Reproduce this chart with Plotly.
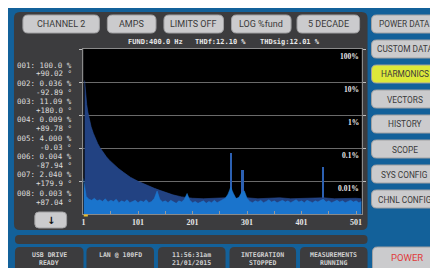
import math
import plotly.graph_objects as go

W, H = 438, 268
OFF = 8  # page body margin: the figure starts 8px in from the window's top-left

# ---------------- data ----------------
harmonic_ticks = [1, 101, 201, 301, 401, 501]
harmonic_tick_labels = ["1", "101", "201", "301", "401", "501"]
harmonic_minor_ticks = [51, 151, 251, 351, 451]
decade_vals = [100, 10, 1, 0.1, 0.01]
decade_labels = ["100%", "10%", "1%", "0.1%", "0.01%"]
cursor_harmonic = 1

# odd-harmonic envelope (% of fundamental)
env_h = [3, 5, 7, 9, 11, 13, 15, 19, 23, 27, 31, 37, 43, 49, 57, 65, 75, 87, 101, 115,
         131, 141, 151, 165, 181, 201, 221, 241, 261, 281, 301, 321, 341, 361, 381, 401,
         421, 441, 461, 481, 501, 511]
env_pct = [11.09, 4.00, 2.04, 1.23, 0.83, 0.59, 0.44, 0.28, 0.19, 0.137, 0.104, 0.073,
           0.054, 0.042, 0.031, 0.024, 0.018, 0.013, 0.0098, 0.0076, 0.0060, 0.0052,
           0.0045, 0.0038, 0.0033, 0.0030, 0.0029, 0.0030, 0.0031, 0.0030, 0.0031,
           0.0029, 0.0030, 0.0031, 0.0029, 0.0030, 0.0030, 0.0031, 0.0029, 0.0030,
           0.0030, 0.0029]

# noise floor (% of fundamental)
floor_h = [1, 6, 11, 16, 21, 26, 31, 36, 41, 46, 51, 56, 61, 66, 71, 76, 81, 86, 91, 96,
           101, 106, 111, 116, 121, 126, 131, 136, 141, 146, 151, 156, 161, 166, 171, 176,
           181, 186, 191, 196, 201, 206, 211, 216, 221, 226, 231, 236, 241, 246, 251, 256,
           261, 266, 271, 276, 281, 286, 291, 296, 301, 306, 311, 316, 321, 326, 331, 336,
           341, 346, 351, 356, 361, 366, 371, 376, 381, 386, 391, 396, 401, 406, 411, 416,
           421, 426, 431, 436, 441, 446, 451, 456, 461, 466, 471, 476, 481, 486, 491, 496,
           501, 506, 511]
floor_pct = [0.0120, 0.0034, 0.0028, 0.0026, 0.0030, 0.0025, 0.0027, 0.0024, 0.0029, 0.0023,
             0.0026, 0.0024, 0.0028, 0.0022, 0.0025, 0.0023, 0.0027, 0.0022, 0.0024, 0.0026,
             0.0022, 0.0025, 0.0023, 0.0027, 0.0022, 0.0024, 0.0030, 0.0050, 0.0028, 0.0023,
             0.0025, 0.0022, 0.0026, 0.0023, 0.0021, 0.0025, 0.0023, 0.0028, 0.0042, 0.0026,
             0.0022, 0.0024, 0.0021, 0.0023, 0.0025, 0.0021, 0.0024, 0.0022, 0.0026, 0.0022,
             0.0024, 0.0026, 0.0030, 0.0040, 0.0065, 0.0042, 0.0029, 0.0032, 0.0045, 0.0050,
             0.0030, 0.0024, 0.0022, 0.0025, 0.0023, 0.0026, 0.0022, 0.0024, 0.0027, 0.0023,
             0.0025, 0.0022, 0.0024, 0.0026, 0.0023, 0.0025, 0.0022, 0.0024, 0.0027, 0.0023,
             0.0025, 0.0022, 0.0026, 0.0024, 0.0022, 0.0025, 0.0023, 0.0026, 0.0028, 0.0023,
             0.0025, 0.0022, 0.0024, 0.0026, 0.0023, 0.0025, 0.0022, 0.0024, 0.0026, 0.0023,
             0.0025, 0.0022, 0.0024]

# isolated spectral lines
spike_h = [272, 294, 442]
spike_pct = [0.072, 0.021, 0.026]

# readout list
list_harm = ["001", "002", "003", "004", "005", "006", "007", "008"]
list_mag = ["100.0", "0.036", "11.09", "0.009", "4.000", "0.004", "2.040", "0.003"]
list_phase = ["+90.02", "-92.89", "+180.0", "+89.78", "-0.03", "-87.94", "+179.9", "+87.04"]

fund_text = "FUND:400.0 Hz"
thdf_text = "THDf:12.10 %"
thdsig_text = "THDsig:12.01 %"

top_buttons = ["CHANNEL 2", "AMPS", "LIMITS OFF", "LOG %fund", "5 DECADE"]
menu_buttons = ["POWER DATA", "CUSTOM DATA", "HARMONICS", "VECTORS", "HISTORY",
                "SCOPE", "SYS CONFIG", "CHNL CONFIG"]
active_menu = "HARMONICS"
status_boxes = [["USB DRIVE", "READY"], ["LAN @ 100FD"], ["11:56:31am", "21/01/2015"],
                ["INTEGRATION", "STOPPED"], ["MEASUREMENTS", "RUNNING"]]
power_label = "POWER"


# ---------------- helpers (window pixel -> paper) ----------------
def px(x):
    return (x - OFF) / W


def py(y):
    return 1 - (y - OFF) / H


def rrect(x0, y0, x1, y1, r, fill, line=None, lw=0):
    p = (f"M {px(x0 + r)},{py(y0)} L {px(x1 - r)},{py(y0)} "
         f"Q {px(x1)},{py(y0)} {px(x1)},{py(y0 + r)} L {px(x1)},{py(y1 - r)} "
         f"Q {px(x1)},{py(y1)} {px(x1 - r)},{py(y1)} L {px(x0 + r)},{py(y1)} "
         f"Q {px(x0)},{py(y1)} {px(x0)},{py(y1 - r)} L {px(x0)},{py(y0 + r)} "
         f"Q {px(x0)},{py(y0)} {px(x0 + r)},{py(y0)} Z")
    return dict(type="path", xref="paper", yref="paper", path=p, fillcolor=fill,
                line=dict(color=line or fill, width=lw), layer="below")


def label(x, y, text, size, color, family, xanchor="center", bold=False):
    if bold:
        text = f"<b>{text}</b>"
    return dict(x=px(x), y=py(y), xref="paper", yref="paper", text=text, showarrow=False,
                xanchor=xanchor, yanchor="middle", align="center",
                font=dict(size=size, color=color, family=family))


BTN_FONT = "Roboto, Liberation Sans, sans-serif"
MONO = "DejaVu Sans Mono, Liberation Mono, monospace"
SERIF = "Liberation Serif, DejaVu Serif, serif"
BTN_FILL = "#cbcbcd"
BTN_LINE = "#a0a0a2"
PANEL = "#3c3c3e"

PLOT_X0, PLOT_X1, PLOT_Y0, PLOT_Y1 = 82, 362, 49, 214

shapes = []
ann = []

# main dark panel
shapes.append(rrect(12, 12, 368, 230, 6, PANEL))
# plot background
shapes.append(dict(type="rect", xref="paper", yref="paper", x0=px(PLOT_X0), x1=px(PLOT_X1),
                   y0=py(PLOT_Y1), y1=py(PLOT_Y0), fillcolor="#000000",
                   line=dict(width=0), layer="below"))
# strip under panel
shapes.append(rrect(13, 235, 368, 244, 4, PANEL))

# top buttons
top_pos = [(21, 98), (106, 155), (163, 223), (231, 291), (297, 360)]
for (x0, x1), t in zip(top_pos, top_buttons):
    shapes.append(rrect(x0, 15, x1, 33, 5, BTN_FILL, BTN_LINE, 1))
    ann.append(label((x0 + x1) / 2, 24.5, t, 9, "#3a3a3a", BTN_FONT))

# header text
ann.append(label(155, 42, fund_text, 7, "#e8e8e8", MONO, bold=True))
ann.append(label(220, 42, thdf_text, 7, "#e8e8e8", MONO, bold=True))
ann.append(label(290, 42, thdsig_text, 7, "#e8e8e8", MONO, bold=True))

# right menu
for i, t in enumerate(menu_buttons):
    y0 = 15 + 25 * i
    fill = "#dde83a" if t == active_menu else BTN_FILL
    shapes.append(rrect(372, y0, 450, y0 + 18, 5, fill, BTN_LINE, 1))
    ann.append(label(405.5, y0 + 9.5, t, 8.3, "#3a3a3a", BTN_FONT))

# readout list
for i in range(len(list_harm)):
    yb = 65 + 18.3 * i
    ann.append(label(72, yb, f"{list_harm[i]}: {list_mag[i]} %", 7.5, "#dcdcdc", MONO,
                     xanchor="right"))
    ann.append(label(72, yb + 9, f"{list_phase[i]} \u00b0", 7.5, "#dcdcdc", MONO,
                     xanchor="right"))

# down arrow button
shapes.append(rrect(33, 212, 65, 228, 4, BTN_FILL, BTN_LINE, 1))
ann.append(label(49, 220, "\u2193", 10, "#111111", "DejaVu Sans", bold=True))

# status boxes
st_pos = [(13, 82), (85, 153), (157, 225), (229, 296), (300, 368)]
for (x0, x1), lines in zip(st_pos, status_boxes):
    shapes.append(rrect(x0, 247, x1, 280, 5, PANEL))
    for j, t in enumerate(lines):
        ann.append(label((x0 + x1) / 2, 254.5 + 8.5 * j, t, 6.5, "#d0d0d0", MONO, bold=True))
shapes.append(rrect(373, 247, 450, 280, 5, BTN_FILL, BTN_LINE, 1))
ann.append(label(408, 257, power_label, 9.5, "#e03a3a", BTN_FONT))

# y decade labels (inside plot, right aligned, just below each gridline)
for v, t in zip(decade_vals, decade_labels):
    ann.append(dict(x=px(PLOT_X1 - 1), xref="paper", y=math.log10(v), yref="y",
                    text=f"<b>{t}</b>", showarrow=False, xanchor="right", yanchor="top",
                    yshift=-1, font=dict(size=7.5, color="#e6e6e6", family=SERIF)))

# cursor marker at selected harmonic
shapes.append(dict(type="line", xref="x", yref="paper", x0=cursor_harmonic,
                   x1=cursor_harmonic + 8, y0=py(PLOT_Y1 + 1.5), y1=py(PLOT_Y1 + 1.5),
                   line=dict(color="#e8c030", width=2), layer="above"))

fig = go.Figure()
fig.add_trace(go.Scatter(x=env_h, y=env_pct, mode="lines", fill="tozeroy",
                         fillcolor="rgb(34,66,130)", line=dict(color="rgb(40,76,146)", width=0.6),
                         hoverinfo="skip"))
fig.add_trace(go.Scatter(x=floor_h, y=floor_pct, mode="lines", fill="tozeroy",
                         fillcolor="rgb(26,116,204)", line=dict(color="rgb(30,124,214)", width=0.5),
                         hoverinfo="skip"))
fig.add_trace(go.Bar(x=spike_h, y=spike_pct, width=[1.8, 3, 1.8],
                     marker=dict(color="rgb(44,96,178)", line=dict(width=0)), hoverinfo="skip"))

fig.update_layout(
    width=W, height=H, margin=dict(l=0, r=0, t=0, b=0),
    paper_bgcolor="#13619a", plot_bgcolor="rgba(0,0,0,0)",
    showlegend=False, shapes=shapes, annotations=ann, bargap=0,
    xaxis=dict(domain=[px(PLOT_X0), px(PLOT_X1)], range=[1, 511], tickvals=harmonic_ticks,
               ticktext=[f"<b>{t}</b>" for t in harmonic_tick_labels], ticks="inside",
               ticklen=3, tickcolor="#9a9a9a", showgrid=False, zeroline=False,
               showline=True, linecolor="#8a8a8a", linewidth=1, mirror=True,
               tickfont=dict(size=8, color="#e6e6e6", family=SERIF),
               minor=dict(tickvals=harmonic_minor_ticks, ticks="inside", ticklen=3,
                          tickcolor="#9a9a9a")),
    yaxis=dict(domain=[py(PLOT_Y1), py(PLOT_Y0)], type="log", range=[-3, 2],
               tickvals=decade_vals, showticklabels=False, ticks="outside", ticklen=3,
               tickcolor="#bdbdbd", showgrid=True, gridcolor="#6a6a6a", gridwidth=1,
               zeroline=False, showline=True, linecolor="#8a8a8a", linewidth=1,
               mirror="ticks"),
)

fig.write_html("out.html")
